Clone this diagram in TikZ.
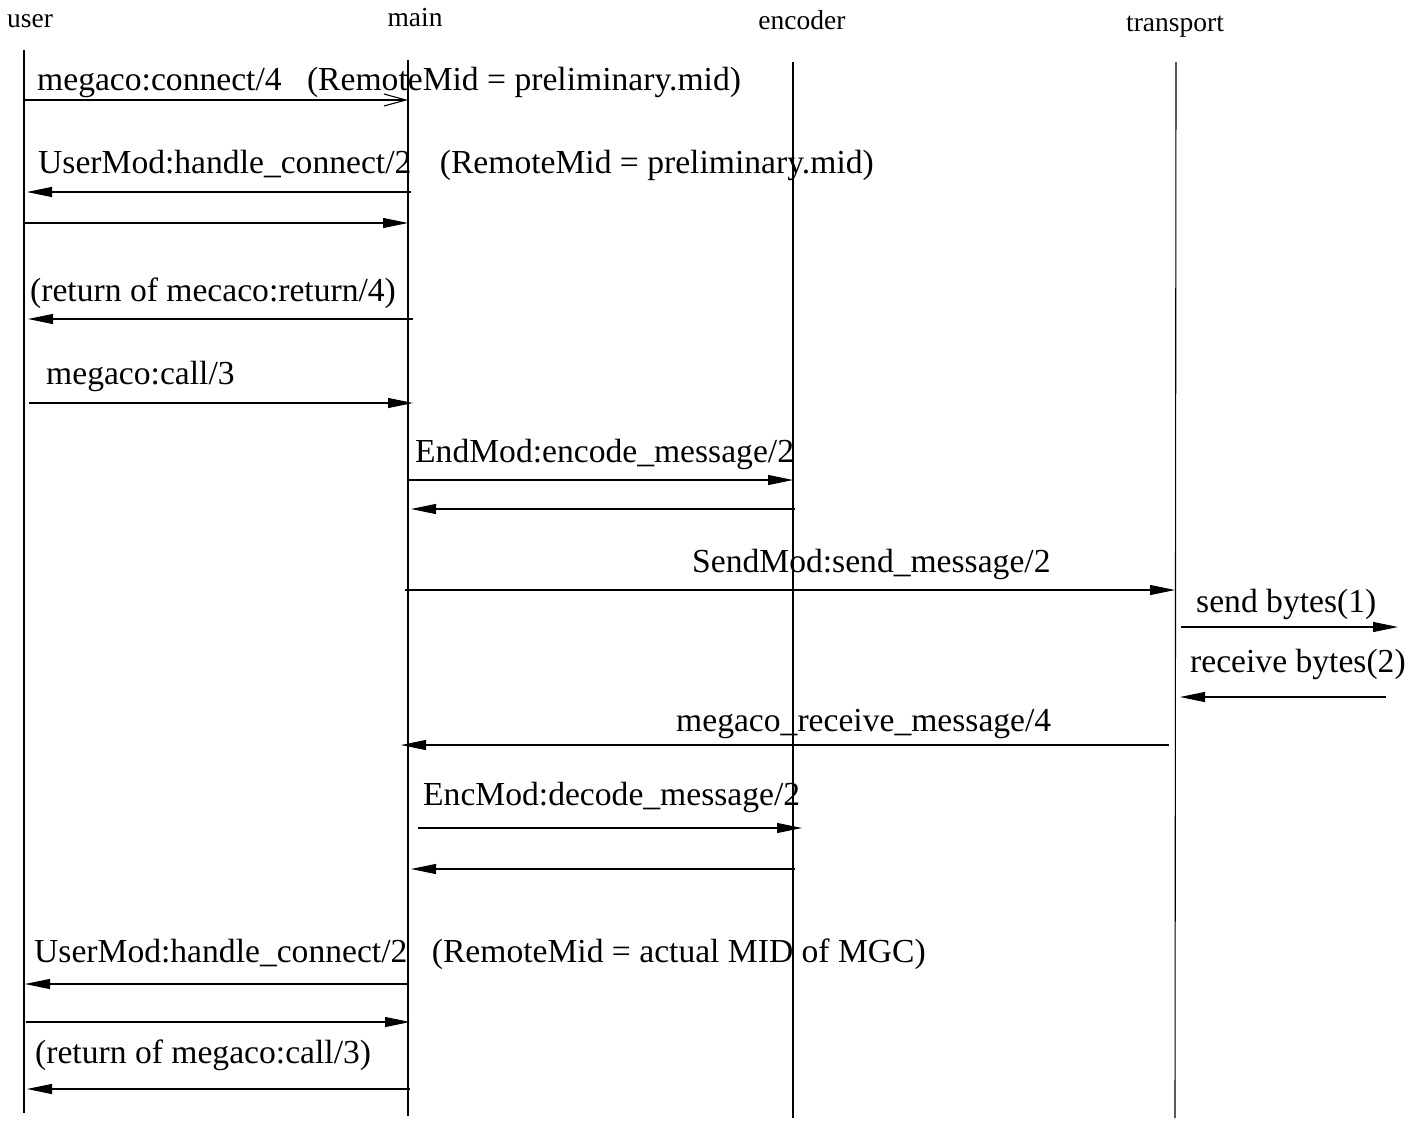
\documentclass[tikz,border=0pt]{standalone}
\usepackage{fontspec}
\setmainfont{Liberation Serif}
\usetikzlibrary{arrows.meta}
\begin{document}
\begin{tikzpicture}[x=1pt,y=-1pt,
  head/.style={font=\fontsize{27.5}{32}\selectfont, anchor=base, inner sep=0pt},
  lbl/.style={font=\fontsize{33.6}{40}\selectfont, anchor=base west, inner sep=0pt},
  life/.style={line width=1.1pt, black},
  msg/.style={line width=1.1pt, -{Triangle[length=25pt,width=10pt]}},
  openmsg/.style={line width=1.1pt, -{Straight Barb[length=22pt,width=12pt,line width=1.1pt]}}]
\useasboundingbox[fill=white] (0,0) rectangle (1419,1120);
% headers
\node[head] (huser) at (30,27) {user};
\node[head] (hmain) at (415,26) {main};
\node[head] (henc) at (802,29) {encoder};
\node[head] (htr) at (1175,31) {transport};
% lifelines
\coordinate (uT) at (24,50);   \coordinate (uB) at (24,1113);
\coordinate (mT) at (408,60);  \coordinate (mB) at (408,1116);
\coordinate (eT) at (793,62);  \coordinate (eB) at (793,1118);
\coordinate (tT) at (1176,62); \coordinate (tB) at (1175,1118);
\draw[life] (uT) -- (uB);
\draw[life] (mT) -- (mB);
\draw[life] (eT) -- (eB);
\draw[life] (tT) -- (tB);
% messages
\coordinate (a1) at (24,100);  \coordinate (b1) at (408,100);
\draw[openmsg] (a1) -- (b1);
\node[lbl] (l1) at (37,90) {megaco:connect/4\hspace{17pt} (RemoteMid = preliminary.mid)};

\coordinate (a2) at (411,192); \coordinate (b2) at (27,192);
\draw[msg] (a2) -- (b2);
\node[lbl] (l2) at (38,173) {UserMod:handle\_connect/2\hspace{20pt} (RemoteMid = preliminary.mid)};

\coordinate (a3) at (24,223); \coordinate (b3) at (408,223);
\draw[msg] (a3) -- (b3);

\coordinate (a4) at (413,319); \coordinate (b4) at (28,319);
\draw[msg] (a4) -- (b4);
\node[lbl] (l4) at (30,301) {(return of mecaco:return/4)};

\coordinate (a5) at (29,403); \coordinate (b5) at (413,403);
\draw[msg] (a5) -- (b5);
\node[lbl] (l5) at (46,384) {megaco:call/3};

\coordinate (a6) at (408,480); \coordinate (b6) at (793,480);
\draw[msg] (a6) -- (b6);
\node[lbl] (l6) at (415,462) {EndMod:encode\_message/2};

\coordinate (a7) at (795,509); \coordinate (b7) at (411,509);
\draw[msg] (a7) -- (b7);

\coordinate (a8) at (405,590); \coordinate (b8) at (1175,590);
\draw[msg] (a8) -- (b8);
\node[lbl] (l8) at (692,572) {SendMod:send\_message/2};

\coordinate (a9) at (1181,627); \coordinate (b9) at (1398,627);
\draw[msg] (a9) -- (b9);
\node[lbl] (l9) at (1196,612) {send bytes(1)};

\coordinate (a10) at (1386,697); \coordinate (b10) at (1180,697);
\draw[msg] (a10) -- (b10);
\node[lbl] (l10) at (1190,672) {receive bytes(2)};

\coordinate (a11) at (1169,745); \coordinate (b11) at (401,745);
\draw[msg] (a11) -- (b11);
\node[lbl] (l11) at (676,731) {megaco\_receive\_message/4};

\coordinate (a12) at (418,828); \coordinate (b12) at (802,828);
\draw[msg] (a12) -- (b12);
\node[lbl] (l12) at (423,805) {EncMod:decode\_message/2};

\coordinate (a13) at (795,869); \coordinate (b13) at (411,869);
\draw[msg] (a13) -- (b13);

\coordinate (a14) at (408,984); \coordinate (b14) at (25,984);
\draw[msg] (a14) -- (b14);
\node[lbl] (l14) at (34,962) {UserMod:handle\_connect/2\hspace{16pt} (RemoteMid = actual MID of MGC)};

\coordinate (a15) at (26,1022); \coordinate (b15) at (410,1022);
\draw[msg] (a15) -- (b15);

\coordinate (a16) at (410,1089); \coordinate (b16) at (27,1089);
\draw[msg] (a16) -- (b16);
\node[lbl] (l16) at (35,1063) {(return of megaco:call/3)};
\end{tikzpicture}
\end{document}
